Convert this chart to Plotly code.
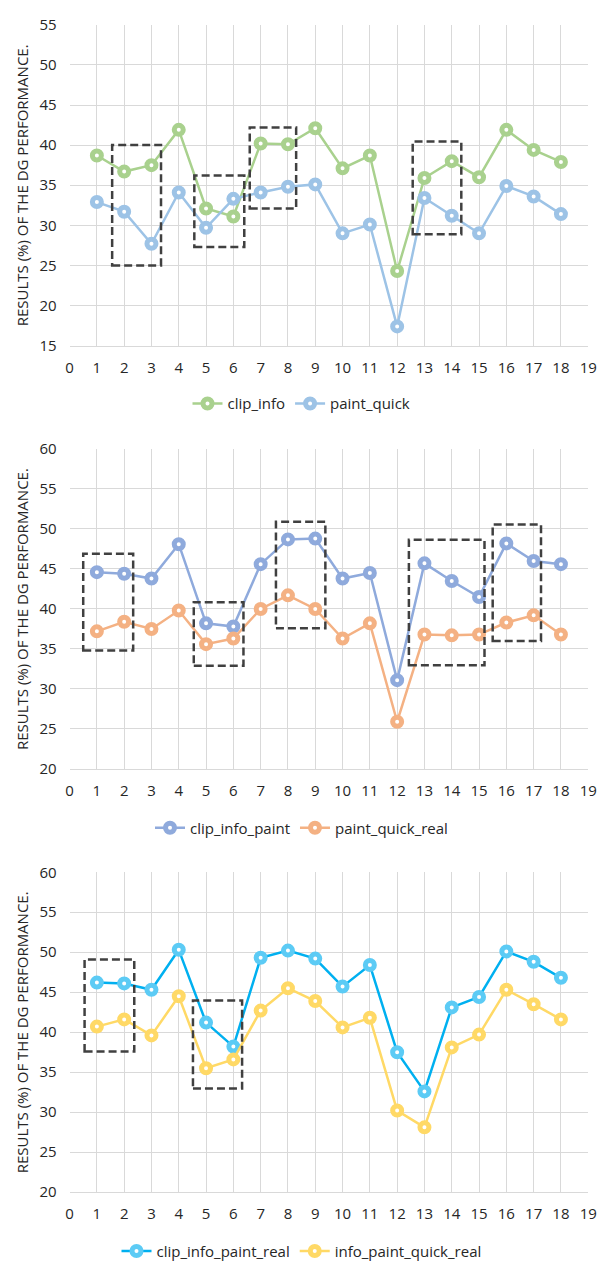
import plotly.graph_objects as go

x_vals = list(range(1, 19))

clip_info = [38.7, 36.7, 37.5, 41.9, 32.1, 31.1, 40.2, 40.1, 42.1, 37.1, 38.7, 24.3, 35.9, 38.0, 36.0, 41.9, 39.4, 37.9]
paint_quick = [32.9, 31.7, 27.7, 34.1, 29.7, 33.3, 34.1, 34.8, 35.1, 29.0, 30.1, 17.4, 33.4, 31.2, 29.0, 34.9, 33.6, 31.4]

clip_info_paint = [44.6, 44.4, 43.8, 48.1, 38.2, 37.8, 45.6, 48.7, 48.8, 43.8, 44.5, 31.1, 45.7, 43.5, 41.5, 48.2, 46.0, 45.6]
paint_quick_real = [37.2, 38.4, 37.5, 39.8, 35.6, 36.3, 40.0, 41.7, 40.0, 36.3, 38.2, 25.9, 36.8, 36.7, 36.8, 38.3, 39.2, 36.8]

clip_info_paint_real = [46.2, 46.1, 45.3, 50.3, 41.2, 38.2, 49.3, 50.2, 49.2, 45.7, 48.4, 37.5, 32.6, 43.1, 44.4, 50.1, 48.8, 46.8]
info_paint_quick_real = [40.7, 41.6, 39.6, 44.5, 35.5, 36.6, 42.7, 45.5, 43.9, 40.6, 41.8, 30.2, 28.1, 38.1, 39.7, 45.3, 43.5, 41.6]

x_ticks = list(range(0, 20))
y_title = "RESULTS (%) OF THE DG PERFORMANCE."

# dashed highlight boxes (x0, x1, y0, y1) per panel
boxes1 = [(1.56, 3.35, 25.0, 40.0), (4.57, 6.4, 27.3, 36.2), (6.6, 8.3, 32.1, 42.2), (12.57, 14.35, 28.9, 40.45)]
boxes2 = [(0.5, 2.33, 34.8, 46.9), (4.55, 6.37, 32.9, 40.85), (7.56, 9.37, 37.6, 50.9), (12.43, 15.2, 32.95, 48.65), (15.5, 17.27, 36.0, 50.55)]
boxes3 = [(0.55, 2.37, 37.6, 49.1), (4.52, 6.32, 32.95, 43.95)]

W, H = 608, 1273
FONT = "Open Sans"
TXT = "#262626"
GRID = "#d9d9d9"

panels = [
    dict(series=[("clip_info", clip_info, "#a9d18e"), ("paint_quick", paint_quick, "#9dc3e6")],
         yr=(15, 55), top=14, bot=340, leg=399, boxes=boxes1),
    dict(series=[("clip_info_paint", clip_info_paint, "#8faadc"), ("paint_quick_real", paint_quick_real, "#f4b183")],
         yr=(20, 60), top=445, bot=770, leg=830, boxes=boxes2),
    dict(series=[("clip_info_paint_real", clip_info_paint_real, "#00b0f0"), ("info_paint_quick_real", info_paint_quick_real, "#ffd966")],
         yr=(20, 60), top=875, bot=1200, leg=1260, boxes=boxes3),
]

marker_line = {"#00b0f0": "#5ccbf5"}

fig = go.Figure()
layout = dict(width=W, height=H, margin=dict(l=0, r=0, t=0, b=0),
              paper_bgcolor="white", plot_bgcolor="white",
              font=dict(family=FONT, size=15, color=TXT), showlegend=True)
shapes = []
annotations = []

for i, p in enumerate(panels):
    n = i + 1
    xa = "x" if n == 1 else f"x{n}"
    ya = "y" if n == 1 else f"y{n}"
    lg = "legend" if n == 1 else f"legend{n}"
    for name, vals, col in p["series"]:
        mcol = marker_line.get(col, col)
        fig.add_trace(go.Scatter(
            x=x_vals, y=vals, name=name, mode="lines+markers",
            xaxis=xa, yaxis=ya, legend=lg,
            line=dict(color=col, width=2.5),
            marker=dict(symbol="circle", size=9, color="white",
                        line=dict(color=mcol, width=5)),
        ))
    xkey = "xaxis" if n == 1 else f"xaxis{n}"
    ykey = "yaxis" if n == 1 else f"yaxis{n}"
    layout[xkey] = dict(domain=[67 / W, 597 / W], range=[0, 19], tickvals=x_ticks,
                        ticktext=[str(t) for t in x_ticks],
                        showgrid=True, gridcolor=GRID, gridwidth=1, zeroline=False,
                        showline=True, linecolor=GRID, linewidth=1, ticks="",
                        ticklabelstandoff=8,
                        anchor=ya, tickfont=dict(size=15, color=TXT),
                        fixedrange=True)
    layout[ykey] = dict(domain=[1 - p["bot"] / H, 1 - p["top"] / H], range=list(p["yr"]), dtick=5,
                        showgrid=True, gridcolor=GRID, gridwidth=1, zeroline=False,
                        showline=False, ticks="", anchor=xa, ticklabelstandoff=12,
                        tickfont=dict(size=15, color=TXT), fixedrange=True)
    layout[lg] = dict(orientation="h", x=304 / W, xanchor="center",
                      y=1 - p["leg"] / H, yanchor="middle",
                      font=dict(size=15, color=TXT), bgcolor="rgba(0,0,0,0)",
                      itemwidth=30, tracegroupgap=0)
    for (bx0, bx1, by0, by1) in p["boxes"]:
        shapes.append(dict(type="rect", xref=xa, yref=ya, x0=bx0, x1=bx1, y0=by0, y1=by1,
                           line=dict(color="#404040", width=2.5, dash="8px,4px"),
                           fillcolor="rgba(0,0,0,0)", layer="above"))
    annotations.append(dict(text=y_title, textangle=-90, xref="paper", yref="paper",
                            x=18.5 / W, y=1 - (p["top"] + p["bot"]) / 2 / H,
                            xanchor="center", yanchor="middle", showarrow=False,
                            font=dict(size=15, color=TXT)))

layout["shapes"] = shapes
layout["annotations"] = annotations
fig.update_layout(**layout)
fig.write_html("out.html", post_script="document.body.style.margin='0';",
               config={"displayModeBar": False})
